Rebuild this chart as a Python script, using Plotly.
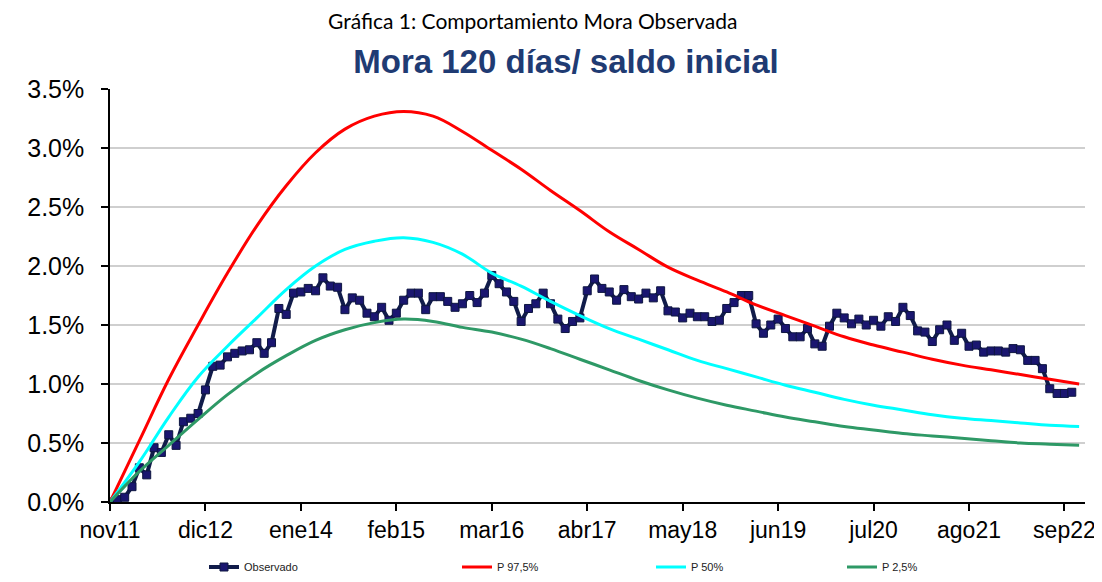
import plotly.graph_objects as go

# ---- data -------------------------------------------------------------
MONTH_ABBR = ["ene", "feb", "mar", "abr", "may", "jun", "jul", "ago", "sep", "oct", "nov", "dic"]
START_MONTH = 10   # index of "nov"
START_YEAR = 11
N_MONTHS = 133     # nov11 .. nov22

months = []
for i in range(N_MONTHS):
    k = START_MONTH + i
    months.append(f"{MONTH_ABBR[k % 12]}{START_YEAR + k // 12}")

tick_labels = ["nov11", "dic12", "ene14", "feb15", "mar16", "abr17",
               "may18", "jun19", "jul20", "ago21", "sep22"]

# Observed monthly default rate (%), nov11 onward
observado = [
    0.00, 0.02, 0.04, 0.13, 0.29, 0.23, 0.46, 0.42, 0.57, 0.48,
    0.68, 0.71, 0.75, 0.95, 1.15, 1.16, 1.23, 1.26, 1.28, 1.29,
    1.35, 1.26, 1.35, 1.64, 1.59, 1.77, 1.78, 1.81, 1.79, 1.90,
    1.83, 1.82, 1.63, 1.73, 1.71, 1.60, 1.57, 1.65, 1.54, 1.60,
    1.71, 1.77, 1.77, 1.63, 1.74, 1.74, 1.70, 1.65, 1.68, 1.75,
    1.69, 1.77, 1.92, 1.85, 1.78, 1.70, 1.53, 1.64, 1.68, 1.77,
    1.68, 1.55, 1.47, 1.53, 1.56, 1.79, 1.89, 1.81, 1.78, 1.71,
    1.80, 1.74, 1.72, 1.77, 1.73, 1.79, 1.62, 1.61, 1.56, 1.60,
    1.57, 1.57, 1.53, 1.54, 1.64, 1.69, 1.75, 1.75, 1.51, 1.43,
    1.50, 1.55, 1.47, 1.40, 1.40, 1.47, 1.34, 1.32, 1.49, 1.60,
    1.56, 1.51, 1.55, 1.50, 1.54, 1.49, 1.57, 1.53, 1.65, 1.58,
    1.45, 1.44, 1.36, 1.46, 1.50, 1.37, 1.43, 1.32, 1.33, 1.27,
    1.28, 1.28, 1.27, 1.30, 1.29, 1.20, 1.20, 1.13, 0.96, 0.92,
    0.92, 0.93,
]

# Percentile curves, read every 4 months (month index -> %)
curve_idx = list(range(0, 133, 4))
p975 = [0.00, 0.52, 1.04, 1.50, 1.94, 2.34, 2.68, 2.96, 3.16, 3.27,
        3.31, 3.27, 3.14, 2.98, 2.82, 2.64, 2.47, 2.29, 2.14, 1.99,
        1.88, 1.78, 1.67, 1.58, 1.49, 1.40, 1.33, 1.27, 1.21, 1.16,
        1.12, 1.08, 1.04, 1.00]
p50 = [0.00, 0.34, 0.72, 1.06, 1.32, 1.56, 1.80, 2.00, 2.14, 2.21,
       2.24, 2.20, 2.10, 1.94, 1.83, 1.70, 1.58, 1.47, 1.38, 1.29,
       1.20, 1.13, 1.06, 0.99, 0.93, 0.87, 0.82, 0.78, 0.74, 0.71,
       0.69, 0.67, 0.65, 0.64]
p25 = [0.00, 0.26, 0.48, 0.70, 0.91, 1.09, 1.24, 1.37, 1.46, 1.52,
       1.55, 1.53, 1.48, 1.44, 1.38, 1.30, 1.21, 1.12, 1.03, 0.95,
       0.88, 0.82, 0.77, 0.72, 0.68, 0.64, 0.61, 0.58, 0.56, 0.54,
       0.52, 0.50, 0.49, 0.48]

# ---- figure -----------------------------------------------------------
AXIS_FONT = "Liberation Sans, Arial, sans-serif"
W, H = 1094, 574   # page adds an 8px body margin

fig = go.Figure()
fig.add_trace(go.Scatter(
    x=months[:len(observado)], y=observado, name="Observado",
    mode="lines+markers", legend="legend",
    line=dict(color="#111C4A", width=4),
    marker=dict(symbol="square", size=8, color="#1A1670",
                line=dict(color="#0E1640", width=1)),
))
curve_x = [months[i] for i in curve_idx]
fig.add_trace(go.Scatter(x=curve_x, y=p975, name="P 97,5%", mode="lines", legend="legend2",
                         line=dict(color="#FF0000", width=3, shape="spline", smoothing=1.1)))
fig.add_trace(go.Scatter(x=curve_x, y=p50, name="P 50%", mode="lines", legend="legend3",
                         line=dict(color="#00FFFF", width=3, shape="spline", smoothing=1.1)))
fig.add_trace(go.Scatter(x=curve_x, y=p25, name="P 2,5%", mode="lines", legend="legend4",
                         line=dict(color="#2E9966", width=3, shape="spline", smoothing=1.1)))


def legend_at(px):
    return dict(orientation="h", x=(px - 110) / 975, xanchor="left",
                y=-(567 - 502) / 413, yanchor="middle",
                font=dict(family=AXIS_FONT, size=11, color="#222"),
                bgcolor="rgba(0,0,0,0)")


fig.update_layout(
    width=W, height=H,
    margin=dict(l=102, r=17, t=81, b=80, autoexpand=False),
    paper_bgcolor="white", plot_bgcolor="white",
    title=dict(text="<b>Mora 120 días/ saldo inicial</b>",
               x=(566 - 8) / W, xanchor="center", xref="container",
               y=1 - (61 - 8) / H, yanchor="middle", yref="container",
               font=dict(family=AXIS_FONT, size=33, color="#1F3B73")),
    annotations=[dict(text="Gráfica 1: Comportamiento Mora Observada",
                      xref="paper", yref="paper",
                      x=(532 - 110) / 975, y=1 + (89 - 20) / 413,
                      xanchor="center", yanchor="middle", showarrow=False,
                      font=dict(family="Lato, Open Sans, sans-serif", size=21, color="black"))],
    legend=legend_at(204),
    legend2=legend_at(457),
    legend3=legend_at(651),
    legend4=legend_at(842),
    showlegend=True,
)
fig.update_xaxes(
    type="category", categoryorder="array", categoryarray=months,
    range=[0, 132.8], automargin=False,
    tickmode="array", tickvals=tick_labels, ticktext=tick_labels,
    ticks="outside", ticklen=7, tickwidth=1.5, tickcolor="black",
    showline=True, linecolor="black", linewidth=1.5,
    showgrid=False, zeroline=False,
    tickfont=dict(family=AXIS_FONT, size=23, color="black"),
)
fig.update_yaxes(
    range=[0, 3.5], dtick=0.5, tick0=0, automargin=False,
    tickformat=".1f", ticksuffix="%",
    ticks="outside", ticklen=7, tickwidth=1.5, tickcolor="black",
    ticklabelstandoff=12,
    showline=True, linecolor="black", linewidth=1.5,
    showgrid=True, gridcolor="#CFCFCF", gridwidth=2,
    zeroline=False,
    tickfont=dict(family=AXIS_FONT, size=25, color="black"),
)

fig.write_html("out.html")
